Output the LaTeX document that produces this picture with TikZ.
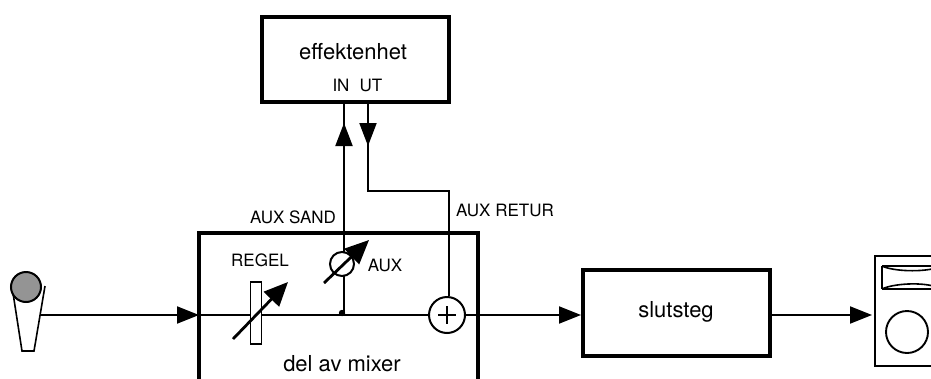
\documentclass[tikz,border=0pt]{standalone}
\usepackage{fontspec}
\setmainfont{TeX Gyre Heros}
\usetikzlibrary{arrows.meta,calc}
\tikzset{
  wire/.style={line width=2pt},
  sig/.style={wire,-{Triangle[length=22pt,width=17pt]}},
  thickbox/.style={draw,line width=4pt,inner sep=0pt,minimum width=#1},
  adjarrow/.style={line width=2.8pt,-{Triangle[length=24pt,width=21pt]}},
  lab/.style={inner sep=0pt,font=\fontsize{17}{17}\selectfont},
  bigl/.style={inner sep=0pt,font=\fontsize{22}{22}\selectfont},
  thinbox/.style={draw,line width=1.8pt,inner sep=0pt,fill=white},
}
\begin{document}
\begin{tikzpicture}[x=1pt,y=-1pt]
\useasboundingbox (0,0) rectangle (931,378);
\clip (0,0) rectangle (931,378);
% coordinates
\coordinate (micout) at (41,315);
\coordinate (mixin) at (199,315);
\coordinate (tap) at (344,315);
\coordinate (retcorner) at (449,191);
\coordinate (retup) at (368,191);
\coordinate (mixBL) at (199,385);
\coordinate (mixTL) at (199,233);
\coordinate (mixTR) at (478,233);
\coordinate (mixBR) at (478,385);
% boxes
\node[thickbox=187pt,minimum height=85pt] (fx) at (355.5,59.5) {};
\node[thickbox=187pt,minimum height=86pt] (amp) at (676.5,313) {};
\draw[line width=4.4pt,line join=miter] (mixBL) -- (mixTL) -- (mixTR) -- (mixBR);
% labels
\node[bigl] (fxl) at (353,52) {effektenhet};
\node[lab] (in) at (341,85) {IN};
\node[lab] (ut) at (371,85) {UT};
\node[lab] (send) at (293,217) {AUX SAND};
\node[lab] (ret) at (505,210) {AUX RETUR};
\node[lab] (regel) at (260,260) {REGEL};
\node[lab] (auxl) at (385,265) {AUX};
\node[bigl] (mixl) at (342,364) {del av mixer};
\node[bigl] (ampl) at (676,312) {slutsteg};
% wires
\node[draw,circle,line width=2pt,minimum size=36pt,inner sep=0pt] (sum) at (447,315) {};
\draw[line width=2pt] ($(sum.center)+(-9,0)$) -- ++(18,0) ($(sum.center)+(0,-9)$) -- ++(0,18);
\draw[sig] (micout) -- (mixin);
\draw[wire] (mixin) -- (sum.west);
\draw[sig] (sum.east) -- (sum.east -| amp.west);
\coordinate (spkin) at (872,315);
\draw[sig] (spkin -| amp.east) -- (spkin);
\draw[wire] (tap) -- (tap |- fx.south);
\draw[-{Triangle[length=23pt,width=17pt]},wire] (344,160) -- (344,123);
\draw[wire] (sum.north -| retcorner) -- (retcorner) -- (retup) -- (retup |- fx.south);
\draw[-{Triangle[length=23pt,width=17pt]},wire] (368,110) -- (368,146);
\fill (342,313) circle (3.2pt);
% regulator
\node[thinbox,minimum width=11pt,minimum height=62pt] (reg) at (256,313) {};
\draw[adjarrow] (233,339) -- (288,282);
% aux pot
\node[draw,circle,line width=2pt,minimum size=24pt,inner sep=0pt,fill=white] (pot) at (342,264) {};
\draw[adjarrow] (324,283) -- (369,240);
% mic
\draw[line width=1.6pt,line join=miter] (45,286) -- (34,351) -- (22,351) -- (13,293);
\node[draw,circle,line width=2pt,minimum size=30pt,inner sep=0pt,fill=black!42] (head) at (26,287) {};
% speaker
\draw[line width=1.8pt] (940,256) -- (875,256) -- (875,366) -- (940,366);
\draw[line width=2.6pt] (882,266) -- (882,289);
\draw[line width=1.8pt] (882,266) -- (940,266) (882,289) -- (940,289);
\draw[line width=1.6pt] (882,266) .. controls (892,271) and (922,273) .. (940,267);
\draw[line width=1.6pt] (882,289) .. controls (892,284) and (922,281) .. (940,288);
\node[draw,circle,line width=1.9pt,minimum size=42pt,inner sep=0pt] (cone) at (907,332) {};
\end{tikzpicture}
\end{document}
